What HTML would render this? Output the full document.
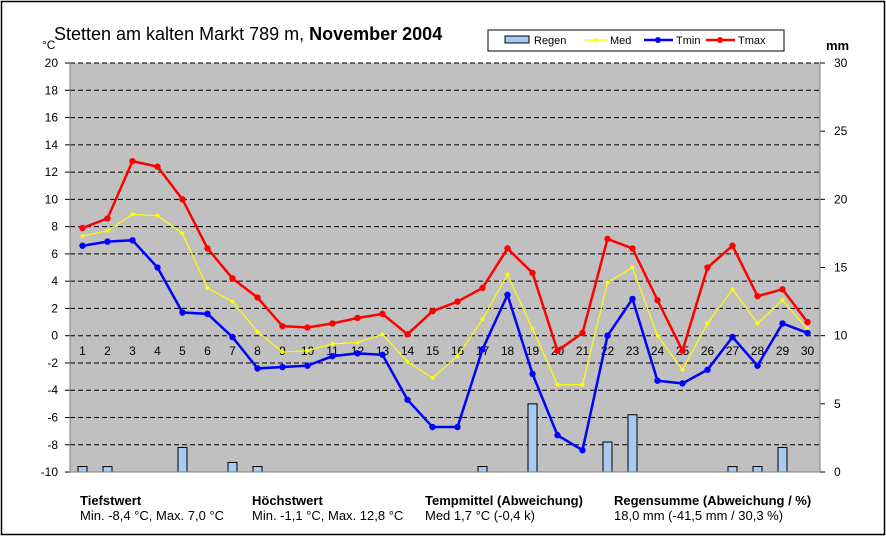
<!DOCTYPE html>
<html><head><meta charset="utf-8"><style>
body{margin:0;background:#fff}
svg{display:block;font-family:"Liberation Sans",sans-serif}
</style></head><body>
<svg width="886" height="536" viewBox="0 0 886 536" xmlns="http://www.w3.org/2000/svg">
<rect x="1.5" y="1.5" width="883" height="533" fill="#fff" stroke="#000" stroke-width="1.5"/>
<rect x="70" y="63" width="750" height="409" fill="#c0c0c0"/>
<g id="grid" stroke="#000" stroke-dasharray="5,3" stroke-width="1"></g>
<g id="ticks" font-size="12" fill="#000"></g>
<g id="bars" fill="#a6caf0" stroke="#000" stroke-width="1"></g>
<g id="lines"></g>
<line x1="70" y1="63" x2="70" y2="472" stroke="#808080"/>
<line x1="820" y1="63" x2="820" y2="472" stroke="#808080"/>
<line x1="70" y1="472" x2="820" y2="472" stroke="#808080"/>
<text x="42" y="49" font-size="12">°C</text>
<text x="54" y="40" font-size="18">Stetten am kalten Markt 789 m, <tspan font-weight="bold">November 2004</tspan></text>
<text x="826" y="50" font-size="13" font-weight="bold">mm</text>
<rect x="488" y="30" width="296" height="21" fill="#fff" stroke="#000"/>
<rect x="505" y="36" width="24" height="7" fill="#a6caf0" stroke="#000"/>
<text x="534" y="44" font-size="11">Regen</text>
<line x1="585" y1="40" x2="607" y2="40" stroke="#ffff00" stroke-width="1.5"/><circle cx="596" cy="40" r="2" fill="#ffff00"/>
<text x="610" y="44" font-size="11">Med</text>
<line x1="644" y1="40" x2="673" y2="40" stroke="#0000ff" stroke-width="2.5"/><circle cx="658" cy="40" r="3" fill="#0000ff"/>
<text x="676" y="44" font-size="11">Tmin</text>
<line x1="706" y1="40" x2="735" y2="40" stroke="#ff0000" stroke-width="2.5"/><circle cx="720" cy="40" r="3" fill="#ff0000"/>
<text x="738" y="44" font-size="11">Tmax</text>
<g font-size="13">
<text x="80" y="505" font-weight="bold">Tiefstwert</text>
<text x="80" y="520">Min. -8,4 °C, Max. 7,0 °C</text>
<text x="252" y="505" font-weight="bold">Höchstwert</text>
<text x="252" y="520">Min. -1,1 °C, Max. 12,8 °C</text>
<text x="425" y="505" font-weight="bold">Tempmittel (Abweichung)</text>
<text x="425" y="520">Med 1,7 °C (-0,4 k)</text>
<text x="614" y="505" font-weight="bold">Regensumme (Abweichung / %)</text>
<text x="614" y="520">18,0 mm (-41,5 mm / 30,3 %)</text>
</g>
</svg>
<script>
const ns="http://www.w3.org/2000/svg";
const Y=t=>335.7-t*13.633, X=i=>70+25*(i+0.5);
function el(p,n,a,txt){const e=document.createElementNS(ns,n);for(const k in a)e.setAttribute(k,a[k]);if(txt!==undefined)e.textContent=txt;document.getElementById(p).appendChild(e);return e;}
for(let t=-8;t<=20;t+=2){el('grid','line',{x1:70,x2:820,y1:Y(t),y2:Y(t)});}
for(let t=-10;t<=20;t+=2){el('ticks','text',{x:58,y:Y(t)+4,'text-anchor':'end'},t);el('ticks','line',{x1:65,x2:70,y1:Y(t),y2:Y(t),stroke:'#000'});}
for(let m=0;m<=30;m+=5){const y=472-m*13.633;el('ticks','text',{x:834,y:y+4},m);el('ticks','line',{x1:820,x2:825,y1:y,y2:y,stroke:'#000'});}
for(let i=0;i<30;i++)el('ticks','text',{x:X(i),y:355,'text-anchor':'middle'},i+1);
const rain=[0.4,0.4,0,0,1.8,0,0.7,0.4,0,0,0,0,0,0,0,0,0.4,0,5.0,0,0,2.2,4.2,0,0,0,0.4,0.4,1.8,0];
rain.forEach((r,i)=>{if(r>0){const h=r*13.633;el('bars','rect',{x:X(i)-4.5,y:472-h,width:9,height:h});}});
const tmax=[7.9,8.6,12.8,12.4,10.0,6.4,4.2,2.8,0.7,0.6,0.9,1.3,1.6,0.1,1.8,2.5,3.5,6.4,4.6,-1.1,0.2,7.1,6.4,2.6,-1.1,5.0,6.6,2.9,3.4,1.0];
const tmin=[6.6,6.9,7.0,5.0,1.7,1.6,-0.1,-2.4,-2.3,-2.2,-1.5,-1.3,-1.4,-4.7,-6.7,-6.7,-1.0,3.0,-2.8,-7.3,-8.4,0.0,2.7,-3.3,-3.5,-2.5,-0.1,-2.2,0.9,0.2];
const med=[7.3,7.7,8.9,8.8,7.5,3.5,2.5,0.3,-1.2,-1.1,-0.6,-0.5,0.1,-1.9,-3.1,-1.5,1.2,4.5,0.5,-3.6,-3.6,3.9,5.0,0.0,-2.5,0.9,3.4,0.9,2.6,0.5];
function series(d,c,w,r){el('lines','polyline',{points:d.map((v,i)=>X(i)+','+Y(v)).join(' '),fill:'none',stroke:c,'stroke-width':w});d.forEach((v,i)=>el('lines','circle',{cx:X(i),cy:Y(v),r:r,fill:c}));}
series(med,'#ffff00',1.2,2);series(tmin,'#0000ff',2.5,3.2);series(tmax,'#ff0000',2.5,3.2);
</script>
</body></html>
